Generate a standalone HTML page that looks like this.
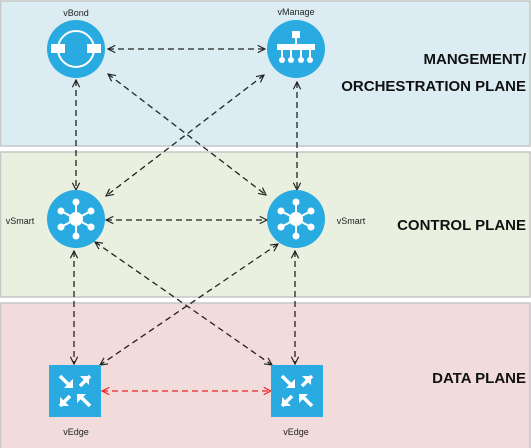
<!DOCTYPE html>
<html><head><style>body{margin:0;background:#fff}svg{display:block}</style></head><body>
<svg width="531" height="448" viewBox="0 0 531 448" xmlns="http://www.w3.org/2000/svg" font-family="Liberation Sans, sans-serif">
<defs>
<marker id="a" viewBox="0 0 10 10" refX="9" refY="5" markerWidth="7" markerHeight="7" orient="auto-start-reverse"><path d="M1,1 L9,5 L1,9" fill="none" stroke="#222" stroke-width="1.3"/></marker>
<marker id="r" viewBox="0 0 10 10" refX="9" refY="5" markerWidth="7" markerHeight="7" orient="auto-start-reverse"><path d="M1,1 L9,5 L1,9" fill="none" stroke="#f02020" stroke-width="1.3"/></marker>
</defs>
<rect x="0.5" y="1" width="529.5" height="145" fill="#dbedf3" stroke="#c6c6c6" stroke-width="1.5"/>
<rect x="0.5" y="152" width="529.5" height="145" fill="#e9f0df" stroke="#c6c6c6" stroke-width="1.5"/>
<rect x="0.5" y="303" width="529.5" height="146" fill="#f1dcdb" stroke="#c6c6c6" stroke-width="1.5"/>
<g font-weight="bold" font-size="15" fill="#111" text-anchor="end">
<text x="526" y="64">MANGEMENT/</text>
<text x="526" y="91">ORCHESTRATION PLANE</text>
<text x="526" y="230">CONTROL PLANE</text>
<text x="526" y="383">DATA PLANE</text>
</g>
<g font-size="9" fill="#222" text-anchor="middle">
<text x="76" y="16">vBond</text>
<text x="296" y="15">vManage</text>
<text x="20" y="224">vSmart</text>
<text x="351" y="224">vSmart</text>
<text x="76" y="435">vEdge</text>
<text x="296" y="435">vEdge</text>
</g>
<g stroke="#222" stroke-width="1.3" stroke-dasharray="6,4" fill="none" marker-start="url(#a)" marker-end="url(#a)">
<line x1="108" y1="49" x2="265" y2="49"/>
<line x1="76" y1="80" x2="76" y2="190"/>
<line x1="297" y1="82" x2="297" y2="190"/>
<line x1="108" y1="74" x2="266" y2="195"/>
<line x1="264" y1="75" x2="106" y2="196"/>
<line x1="106" y1="220" x2="267" y2="220"/>
<line x1="74" y1="251" x2="74" y2="364"/>
<line x1="295" y1="251" x2="295" y2="364"/>
<line x1="95" y1="242" x2="272" y2="365"/>
<line x1="278" y1="244" x2="100" y2="365"/>
</g>
<line x1="102" y1="391" x2="271" y2="391" stroke="#f02020" stroke-width="1.3" stroke-dasharray="6,4" marker-start="url(#r)" marker-end="url(#r)"/>
<g fill="#29abe2">
<circle cx="76" cy="49" r="29"/><circle cx="296" cy="49" r="29"/>
<circle cx="76" cy="219" r="29"/><circle cx="296" cy="219" r="29"/>
<rect x="49" y="365" width="52" height="52"/><rect x="271" y="365" width="52" height="52"/>
</g>
<!-- vBond icon -->
<circle cx="76" cy="49" r="18" fill="none" stroke="#fff" stroke-width="2"/>
<rect x="51" y="44" width="14" height="9" fill="#fff"/><rect x="87" y="44" width="14" height="9" fill="#fff"/>
<!-- vManage icon -->
<g fill="#fff" stroke="#fff">
<rect x="292" y="31" width="8" height="7" stroke="none"/>
<line x1="296" y1="37" x2="296" y2="44" stroke-width="2"/>
<rect x="277" y="44" width="38" height="6" stroke="none"/>
<line x1="282" y1="50" x2="282" y2="58" stroke-width="2"/><line x1="291" y1="50" x2="291" y2="58" stroke-width="2"/><line x1="301" y1="50" x2="301" y2="58" stroke-width="2"/><line x1="310" y1="50" x2="310" y2="58" stroke-width="2"/>
<circle cx="282" cy="60" r="3" stroke="none"/><circle cx="291" cy="60" r="3" stroke="none"/><circle cx="301" cy="60" r="3" stroke="none"/><circle cx="310" cy="60" r="3" stroke="none"/>
</g>
<!-- vSmart icons -->
<g id="vs" fill="#fff" stroke="#fff" stroke-width="2">
<line x1="76" y1="219" x2="76" y2="202"/><line x1="76" y1="219" x2="76" y2="236"/>
<line x1="76" y1="219" x2="61" y2="211"/><line x1="76" y1="219" x2="91" y2="211"/>
<line x1="76" y1="219" x2="61" y2="227"/><line x1="76" y1="219" x2="91" y2="227"/>
<circle cx="76" cy="219" r="7" stroke="none"/>
<circle cx="76" cy="202" r="3.5" stroke="none"/><circle cx="76" cy="236" r="3.5" stroke="none"/>
<circle cx="61" cy="211" r="3.5" stroke="none"/><circle cx="91" cy="211" r="3.5" stroke="none"/>
<circle cx="61" cy="227" r="3.5" stroke="none"/><circle cx="91" cy="227" r="3.5" stroke="none"/>
</g>
<use href="#vs" x="220" y="0"/>
<!-- vEdge icons -->
<g id="ve" fill="#fff" stroke="#fff" stroke-width="3.5">
<line x1="60" y1="376" x2="70" y2="386"/><path d="M64,388 L73,388 L73,379 Z" stroke="none"/>
<line x1="90" y1="376" x2="80" y2="386"/><path d="M80,376 L89,376 L89,385 Z" stroke="none" transform="rotate(0)"/>
<line x1="60" y1="406" x2="70" y2="396"/><path d="M60,397 L60,406 L69,406 Z" stroke="none"/>
<line x1="90" y1="406" x2="80" y2="396"/><path d="M77,394 L77,403 L86,394 Z" stroke="none"/>
</g>
<use href="#ve" x="222" y="0"/>
</svg>
</body></html>
